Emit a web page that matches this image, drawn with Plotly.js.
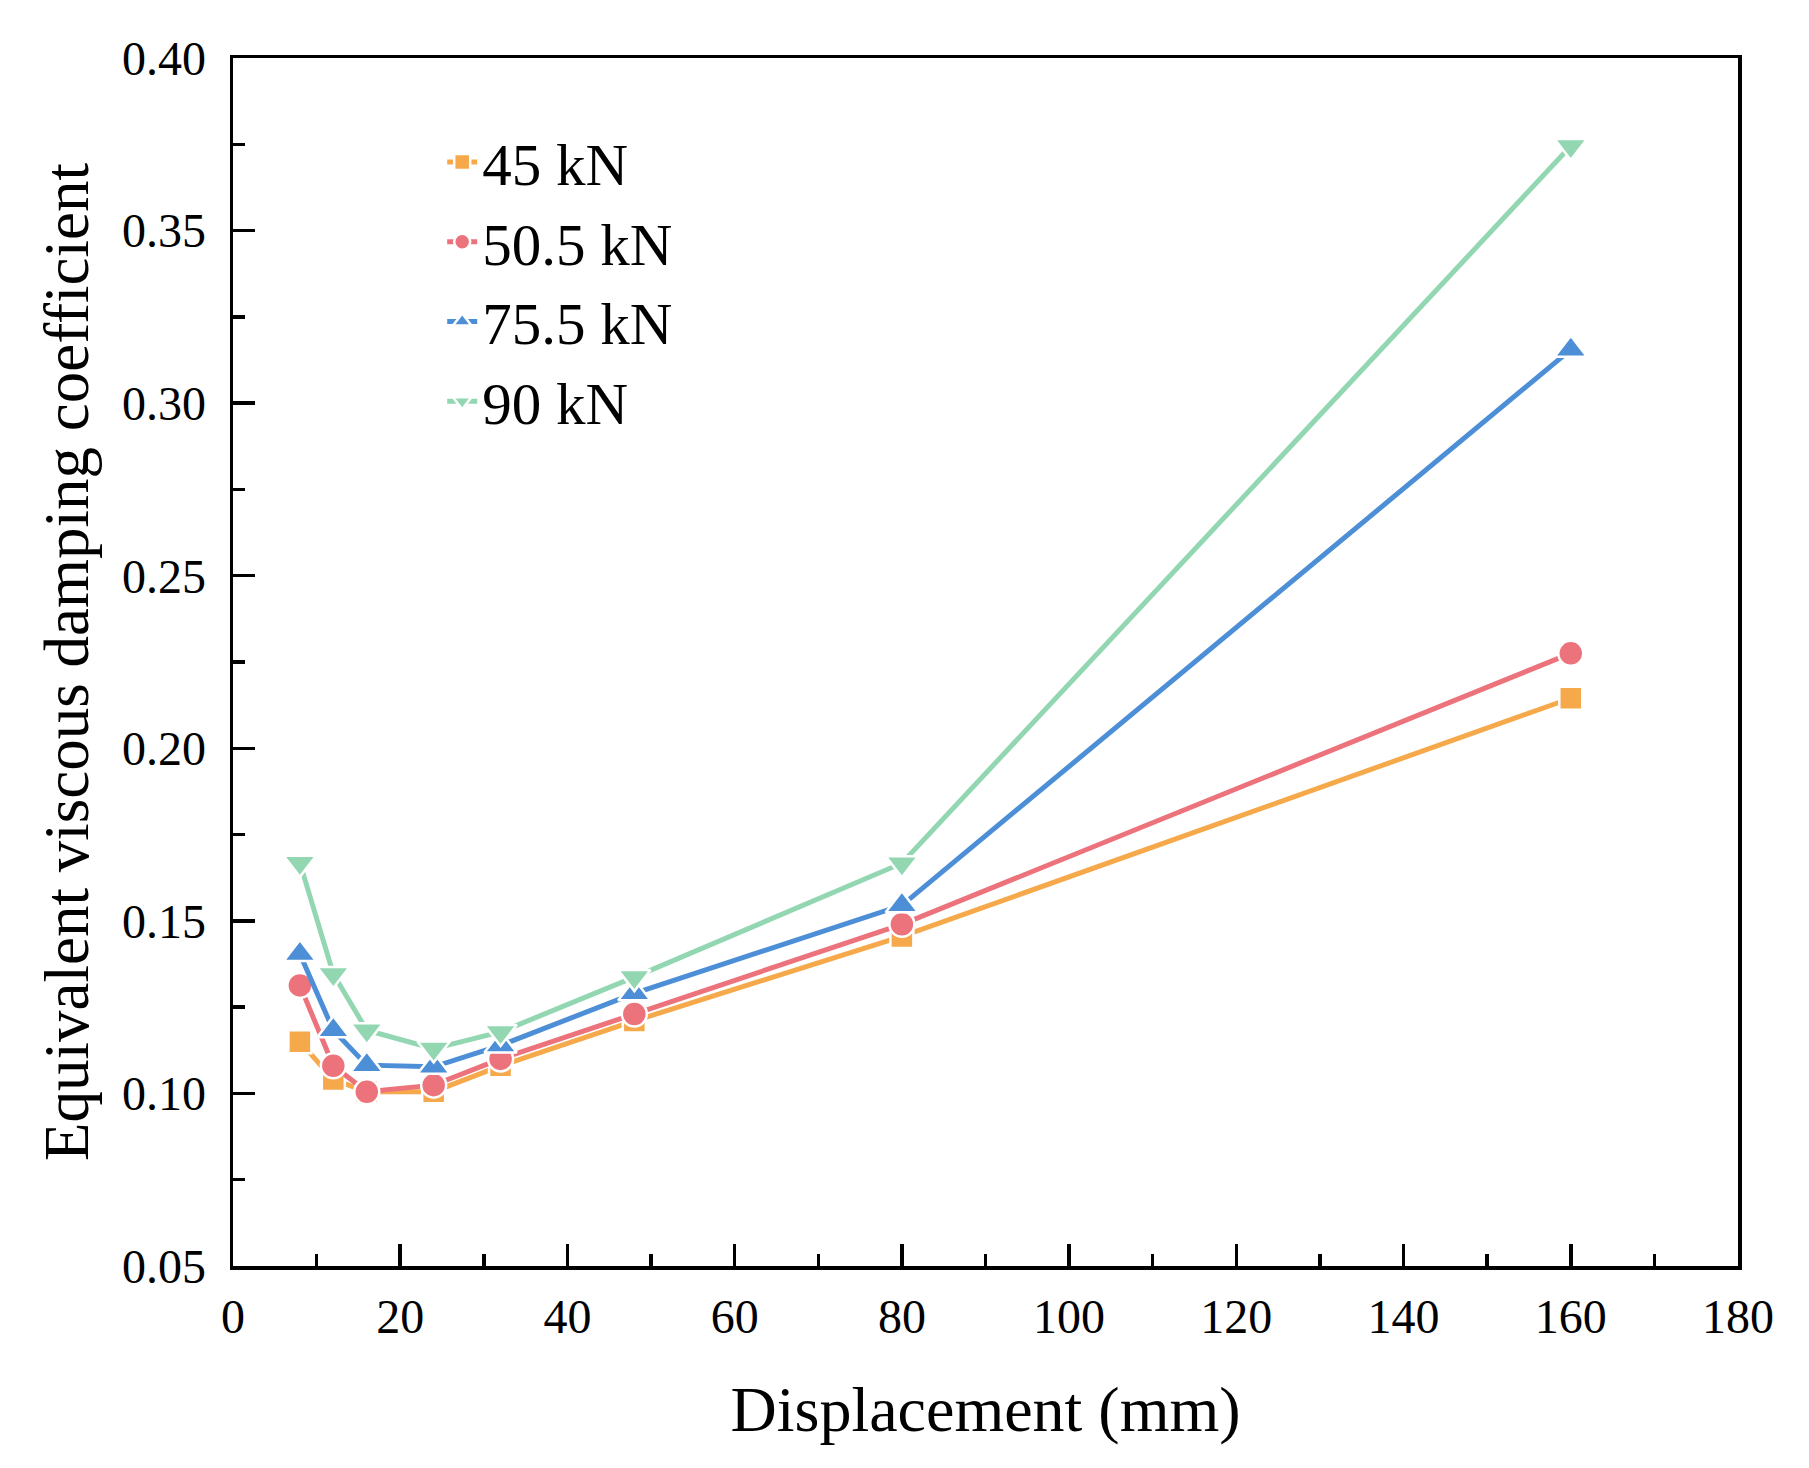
<!DOCTYPE html>
<html>
<head>
<meta charset="utf-8">
<script src="https://cdn.plot.ly/plotly-3.0.1.min.js"></script>
<style>html,body{margin:0;padding:0;background:#fff;}</style>
</head>
<body>
<div id="chart" style="width:1809px;height:1468px;"></div>
<script>
const displacement = [8, 12, 16, 24, 32, 48, 80, 160];
const seriesNames = ["45 kN", "50.5 kN", "75.5 kN", "90 kN"];
const kN45 = [0.1150, 0.1040, 0.1005, 0.1005, 0.1080, 0.1210, 0.1455, 0.2145];
const kN50_5 = [0.1313, 0.1080, 0.1005, 0.1024, 0.1100, 0.1230, 0.1490, 0.2275];
const kN75_5 = [0.1404, 0.1183, 0.1082, 0.1077, 0.1139, 0.1290, 0.1545, 0.3155];
const kN90 = [0.1668, 0.1346, 0.1183, 0.1130, 0.1178, 0.1337, 0.1667, 0.3745];
const colors = ["#F6A94B", "#EC737B", "#4D8FD7", "#92D7B2"];
const symbols = ["square", "circle", "triangle-up", "triangle-down"];
const sizes = [23, 25, 28, 28];
const values = [kN45, kN50_5, kN75_5, kN90];

const traces = values.map((v, i) => ({
  x: displacement,
  y: v,
  name: seriesNames[i],
  type: "scatter",
  mode: "lines+markers",
  line: {color: colors[i], width: 5},
  marker: {symbol: symbols[i], size: sizes[i], color: colors[i], line: {color: "#ffffff", width: 2.5}}
}));

const font = "Liberation Serif, Times New Roman, serif";
const layout = {
  width: 1809,
  height: 1468,
  margin: {l: 233, r: 71, t: 58, b: 202},
  paper_bgcolor: "#fff",
  plot_bgcolor: "#fff",
  font: {family: font, color: "#000"},
  showlegend: true,
  legend: {
    x: 0.139, y: 0.951, xanchor: "left", yanchor: "top",
    font: {family: font, size: 59, color: "#000"},
    bgcolor: "rgba(0,0,0,0)", borderwidth: 0,
    itemsizing: "trace", tracegroupgap: 0
  },
  xaxis: {
    range: [0, 180],
    tick0: 0, dtick: 20,
    ticks: "inside", ticklen: 22, tickwidth: 3.5, tickcolor: "#000",
    minor: {dtick: 10, ticks: "inside", ticklen: 12, tickwidth: 3.5, tickcolor: "#000", showgrid: false},
    showline: true, linewidth: 3.5, linecolor: "#000", mirror: true,
    showgrid: false, zeroline: false,
    tickfont: {family: font, size: 48, color: "#000"},
    ticklabelstandoff: 6,
    title: {text: "Displacement (mm)", font: {family: font, size: 64, color: "#000"}, standoff: 45}
  },
  yaxis: {
    range: [0.05, 0.40],
    tick0: 0.05, dtick: 0.05,
    tickformat: ".2f",
    ticks: "inside", ticklen: 22, tickwidth: 3.5, tickcolor: "#000",
    minor: {dtick: 0.025, ticks: "inside", ticklen: 12, tickwidth: 3.5, tickcolor: "#000", showgrid: false},
    showline: true, linewidth: 3.5, linecolor: "#000", mirror: true,
    showgrid: false, zeroline: false,
    tickfont: {family: font, size: 48, color: "#000"},
    ticklabelstandoff: 14,
    title: {text: "Equivalent viscous damping coefficient", font: {family: font, size: 63, color: "#000"}, standoff: 14}
  }
};

Plotly.newPlot("chart", traces, layout, {displayModeBar: false, staticPlot: true});
</script>
</body>
</html>
